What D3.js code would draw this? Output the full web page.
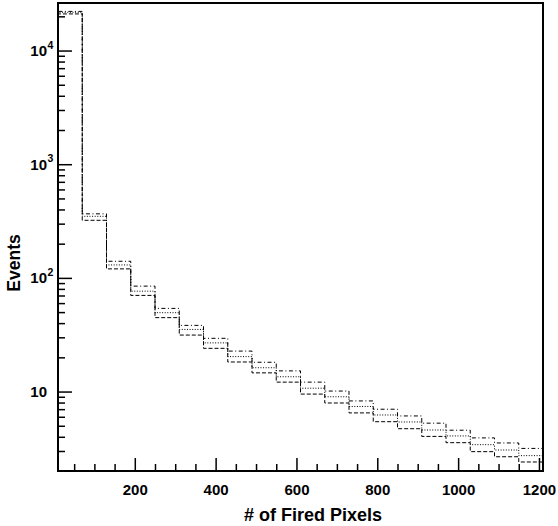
<!DOCTYPE html>
<html>
<head>
<meta charset="utf-8">
<script src="https://cdn.jsdelivr.net/npm/d3@7"></script>
<style>
  html, body { margin: 0; padding: 0; background: #fff; }
  svg text { font-family: "Liberation Sans", Arial, Helvetica, sans-serif; font-weight: bold; fill: #000; }
</style>
</head>
<body>
<svg id="chart" width="558" height="526"></svg>
<script>
// ---- data ----
const binLow = [10, 70, 130, 190, 250, 310, 370, 430, 490, 550, 610, 670, 730, 790, 850, 910, 970, 1030, 1090, 1150];
const binHigh = [70, 130, 190, 250, 310, 370, 430, 490, 550, 610, 670, 730, 790, 850, 910, 970, 1030, 1090, 1150, 1210];
const seriesDashDot = [22100, 366, 140, 84.6, 53.9, 38.2, 29.4, 22.7, 18.1, 15.2, 12.1, 10.1, 8.27, 6.99, 6.10, 5.27, 4.57, 3.91, 3.53, 3.16];
const seriesDotted  = [21700, 348, 130, 76.4, 49.4, 35.2, 26.8, 20.3, 16.2, 13.5, 10.7, 9.0, 7.39, 6.22, 5.40, 4.59, 4.07, 3.41, 3.06, 2.73];
const seriesDashed  = [21000, 321, 120, 70.1, 44.7, 31.4, 24.0, 18.2, 14.6, 12.1, 9.5, 7.93, 6.49, 5.43, 4.71, 4.03, 3.55, 2.96, 2.67, 2.40];
const xMajorTicks = [200, 400, 600, 800, 1000, 1200];
const xMinorTicks = [50, 100, 150, 250, 300, 350, 450, 500, 550, 650, 700, 750, 850, 900, 950, 1050, 1100, 1150];
const yMajorTicks = [10, 100, 1000, 10000];
const yMajorExp = ["", "2", "3", "4"];
const yMinorTicks = [3, 4, 5, 6, 7, 8, 9, 20, 30, 40, 50, 60, 70, 80, 90, 200, 300, 400, 500, 600, 700, 800, 900, 2000, 3000, 4000, 5000, 6000, 7000, 8000, 9000, 20000];
const xDomain = [10, 1210];
const yDomain = [2, 26200];
const xTitle = "# of Fired Pixels";
const yTitle = "Events";

// ---- layout ----
const L = 58, R = 543, T = 3, B = 471;
const svg = d3.select("#chart");
const x = d3.scaleLinear().domain(xDomain).range([L, R]);
const y = d3.scaleLog().domain(yDomain).range([B, T]);

// ---- histograms ----
function stepPath(vals) {
  const p = d3.path();
  p.moveTo(x(binLow[0]), y(yDomain[0]));
  vals.forEach((v, i) => {
    p.lineTo(x(binLow[i]), y(v));
    p.lineTo(x(binHigh[i]), y(v));
  });
  p.lineTo(x(binHigh[binHigh.length - 1]), y(yDomain[0]));
  return p.toString();
}
const series = [
  { vals: seriesDashed, dash: "4,2" },
  { vals: seriesDotted, dash: "1,1.6" },
  { vals: seriesDashDot, dash: "4,2.5,1,2.5" }
];
svg.append("g").selectAll("path").data(series).join("path")
  .attr("d", d => stepPath(d.vals))
  .attr("fill", "none")
  .attr("stroke", "#000")
  .attr("stroke-width", 1)
  .attr("stroke-dasharray", d => d.dash);

// ---- axes ----
const gx = svg.append("g").attr("transform", `translate(0,${B})`);
gx.call(d3.axisBottom(x).tickValues(xMinorTicks).tickSize(-7).tickFormat(""));
gx.append("g").call(d3.axisBottom(x).tickValues(xMajorTicks).tickSize(-13).tickPadding(13).tickFormat(d3.format("d")));
gx.selectAll(".domain").remove();
gx.selectAll("line").attr("stroke", "#000").attr("stroke-width", 1.5);
gx.selectAll("text").style("font-size", "15px").style("font-family", null);

const gy = svg.append("g").attr("transform", `translate(${L},0)`);
gy.call(d3.axisLeft(y).tickValues(yMinorTicks).tickSize(-7).tickFormat(""));
gy.append("g").call(d3.axisLeft(y).tickValues(yMajorTicks).tickSize(-14).tickFormat(""));
gy.selectAll(".domain").remove();
gy.selectAll("line").attr("stroke", "#000").attr("stroke-width", 1.5);

// y labels: 10, 10^2, 10^3, 10^4
const ylab = svg.append("g");
yMajorTicks.forEach((v, i) => {
  ylab.append("text").attr("x", 47).attr("y", y(v) + 5.5)
    .attr("text-anchor", "end").style("font-size", "15px").text("10");
  if (yMajorExp[i]) {
    ylab.append("text").attr("x", 47.5).attr("y", y(v) - 2)
      .attr("text-anchor", "start").style("font-size", "10.5px").text(yMajorExp[i]);
  }
});

// frame
svg.append("rect").attr("x", L).attr("y", T).attr("width", R - L).attr("height", B - T)
  .attr("fill", "none").attr("stroke", "#000").attr("stroke-width", 2);

// titles
svg.append("text").attr("x", 313).attr("y", 521).attr("text-anchor", "middle")
  .style("font-size", "18px").text(xTitle);
svg.append("text").attr("transform", "translate(20,263) rotate(-90)")
  .attr("text-anchor", "middle").style("font-size", "17.5px").text(yTitle);
</script>
</body>
</html>
